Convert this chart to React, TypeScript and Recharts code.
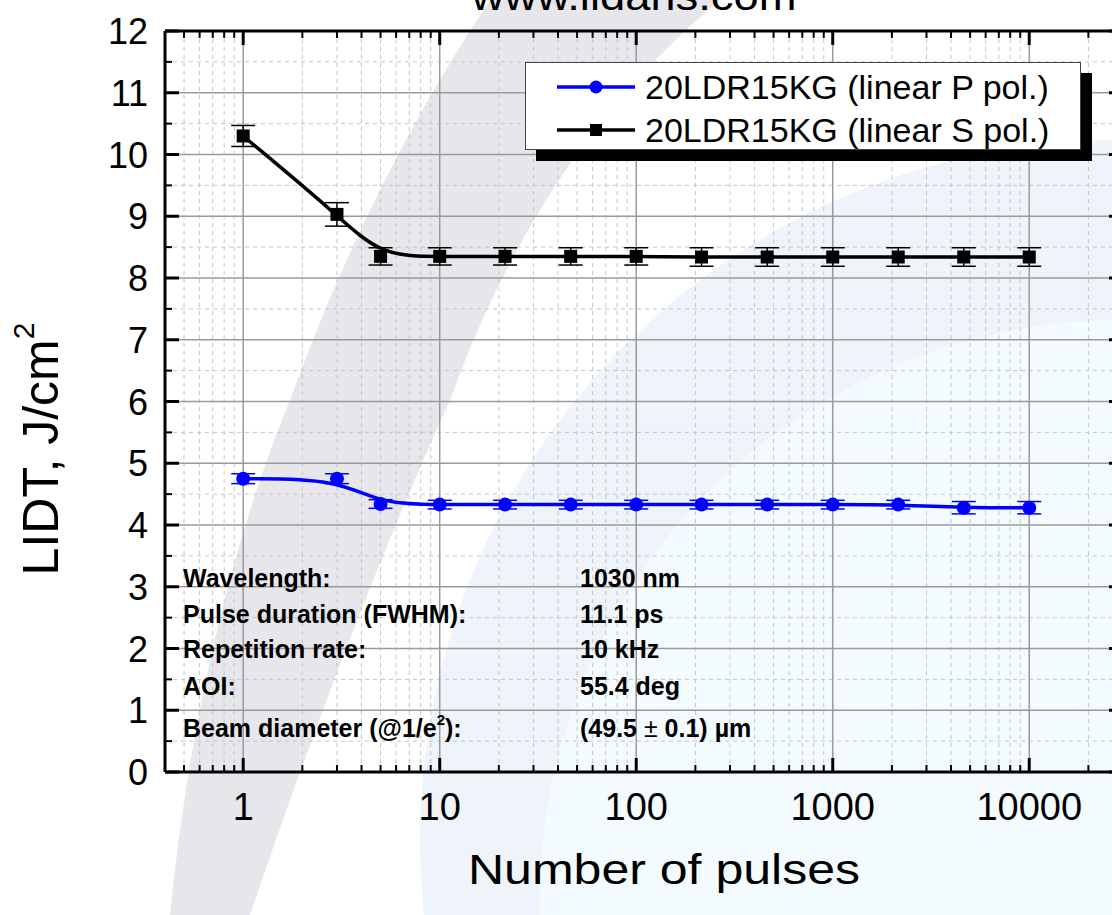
import React from "react";
import {
  CartesianGrid,
  ComposedChart,
  Customized,
  ErrorBar,
  Legend,
  Line,
  XAxis,
  YAxis,
} from "recharts";

const FONT = '"Liberation Sans", Arial, Helvetica, sans-serif';

// measured points (number of pulses, LIDT J/cm2 and its error)
const PULSES = [1, 3, 5, 10, 21.5, 46.4, 100, 215, 464, 1000, 2154, 4642, 10000];
const P_POL = [4.75, 4.75, 4.34, 4.33, 4.33, 4.33, 4.33, 4.33, 4.33, 4.33, 4.33, 4.28, 4.28];
const P_ERR = [0.08, 0.08, 0.07, 0.07, 0.07, 0.07, 0.07, 0.07, 0.07, 0.07, 0.07, 0.1, 0.1];
const S_POL = [10.3, 9.03, 8.35, 8.35, 8.35, 8.35, 8.35, 8.34, 8.34, 8.34, 8.34, 8.34, 8.34];
const S_ERR = [0.17, 0.19, 0.14, 0.14, 0.14, 0.14, 0.14, 0.15, 0.15, 0.15, 0.15, 0.15, 0.15];

const SERIES_NAMES = ["20LDR15KG (linear P pol.)", "20LDR15KG (linear S pol.)"];

const X_MAJOR = [1, 10, 100, 1000, 10000];
const X_MINOR = [
  0.5, 0.6, 0.7, 0.8, 0.9,
  2, 3, 4, 5, 6, 7, 8, 9,
  20, 30, 40, 50, 60, 70, 80, 90,
  200, 300, 400, 500, 600, 700, 800, 900,
  2000, 3000, 4000, 5000, 6000, 7000, 8000, 9000,
  20000,
];
const Y_MAJOR = [0, 1, 2, 3, 4, 5, 6, 7, 8, 9, 10, 11, 12];
const Y_MINOR = [0.5, 1.5, 2.5, 3.5, 4.5, 5.5, 6.5, 7.5, 8.5, 9.5, 10.5, 11.5];

const INFO_LABELS = ["Wavelength:", "Pulse duration (FWHM):", "Repetition rate:", "AOI:"];
const INFO_VALUES = ["1030 nm", "11.1 ps", "10 kHz", "55.4 deg"];
const INFO_BASELINES = [587, 623, 658, 695, 737];

const data = PULSES.map((n, i) => ({
  n,
  p: P_POL[i],
  pErr: P_ERR[i],
  s: S_POL[i],
  sErr: S_ERR[i],
}));

const xTicks = [...X_MAJOR, ...X_MINOR].sort((a, b) => a - b);
const yTicks = [...Y_MAJOR, ...Y_MINOR].sort((a, b) => a - b);

const isMajorX = (v: number) => X_MAJOR.includes(v);
const isMajorY = (v: number) => Y_MAJOR.includes(v);

function BottomTick(props: any) {
  const { x, y, payload } = props;
  const major = isMajorX(payload.value);
  return (
    <g>
      <line x1={x} x2={x} y1={y} y2={y - (major ? 14 : 7)} stroke="#000" strokeWidth={major ? 3 : 2} />
      {major && (
        <text x={x} y={y + 48} textAnchor="middle" fontSize={38} fontFamily={FONT} fill="#000">
          {payload.value}
        </text>
      )}
    </g>
  );
}

function TopTick(props: any) {
  const { x, y, payload } = props;
  const major = isMajorX(payload.value);
  return <line x1={x} x2={x} y1={y} y2={y + (major ? 14 : 7)} stroke="#000" strokeWidth={major ? 3 : 2} />;
}

function LeftTick(props: any) {
  const { x, y, payload } = props;
  const major = isMajorY(payload.value);
  return (
    <g>
      <line x1={x} x2={x + (major ? 14 : 7)} y1={y} y2={y} stroke="#000" strokeWidth={major ? 3 : 2} />
      {major && (
        <text x={x - 17} y={y + 13} textAnchor="end" fontSize={36} fontFamily={FONT} fill="#000">
          {payload.value}
        </text>
      )}
    </g>
  );
}

function RightTick(props: any) {
  const { x, y, payload } = props;
  const major = isMajorY(payload.value);
  return <line x1={x - (major ? 14 : 7)} x2={x} y1={y} y2={y} stroke="#000" strokeWidth={major ? 3 : 2} />;
}

function SquareDot(props: any) {
  const { cx, cy } = props;
  if (cx == null || cy == null) return null;
  return <rect x={cx - 6.5} y={cy - 6.5} width={13} height={13} fill="#000" />;
}

function CircleDot(props: any) {
  const { cx, cy } = props;
  if (cx == null || cy == null) return null;
  return <circle cx={cx} cy={cy} r={7} fill="#0000ff" />;
}

function LegendBox() {
  const rows = [
    { name: SERIES_NAMES[0], color: "#0000ff", y: 25, marker: "circle" },
    { name: SERIES_NAMES[1], color: "#000000", y: 68, marker: "square" },
  ];
  return (
    <div
      style={{
        width: 556,
        height: 88,
        background: "#fff",
        border: "1.5px solid #444",
        boxSizing: "border-box",
        boxShadow: "11px 11px 0 #000",
      }}
    >
      <svg width={556} height={88} style={{ display: "block", marginTop: -1.5, marginLeft: -1.5 }}>
        {rows.map((r) => (
          <g key={r.name}>
            <line x1={32} x2={110} y1={r.y} y2={r.y} stroke={r.color} strokeWidth={3.5} />
            {r.marker === "circle" ? (
              <circle cx={71} cy={r.y} r={6.5} fill={r.color} />
            ) : (
              <rect x={65} y={r.y - 6} width={12} height={12} fill={r.color} />
            )}
            <text x={120} y={r.y + 12} fontSize={34} fontFamily={FONT} fill="#000">
              {r.name}
            </text>
          </g>
        ))}
      </svg>
    </div>
  );
}

function Annotations() {
  const bold = { fontSize: 25, fontFamily: FONT, fontWeight: 700, fill: "#000" } as const;
  return (
    <g>
      <text x={634} y={10} textAnchor="middle" fontSize={40} fontFamily={FONT} fill="#000" textLength={325} lengthAdjust="spacingAndGlyphs">
        www.lidaris.com
      </text>
      {INFO_LABELS.map((t, i) => (
        <text key={t} x={183} y={INFO_BASELINES[i]} {...bold}>
          {t}
        </text>
      ))}
      <text x={183} y={INFO_BASELINES[4]} {...bold}>
        Beam diameter (@1/e
        <tspan dy={-12} fontSize={15}>2</tspan>
        <tspan dy={12}>):</tspan>
      </text>
      {INFO_VALUES.map((t, i) => (
        <text key={t} x={580} y={INFO_BASELINES[i]} {...bold}>
          {t}
        </text>
      ))}
      <text x={580} y={INFO_BASELINES[4]} {...bold}>
        (49.5 <tspan fontWeight={400}>±</tspan> 0.1) µm
      </text>
      <text
        x={0}
        y={0}
        transform="translate(58, 449) rotate(-90)"
        textAnchor="middle"
        fontSize={50}
        fontFamily={FONT}
        fill="#000"
      >
        LIDT, J/cm
        <tspan dy={-24} fontSize={30}>2</tspan>
      </text>
      <text x={664} y={884} textAnchor="middle" fontSize={42} fontFamily={FONT} fill="#000" textLength={392} lengthAdjust="spacingAndGlyphs">
        Number of pulses
      </text>
    </g>
  );
}

// faint logo behind the plot
function Watermark() {
  return (
    <svg width={1112} height={915} style={{ position: "absolute", left: 0, top: 0 }}>
      <circle cx={1120} cy={840} r={700} fill="#eef4fa" />
      <circle cx={1120} cy={900} r={580} fill="#f4fbfe" />
      <path
        d="M 490 0 L 720 0 Q 540 150 450 400 Q 350 620 250 915 L 170 915 Q 200 620 290 400 Q 370 180 490 0 Z"
        fill="#e7e7eb"
      />
    </svg>
  );
}

export default function App() {
  return (
    <div
      style={{
        position: "fixed",
        left: 0,
        top: 0,
        width: 1112,
        height: 915,
        overflow: "hidden",
        background: "#fff",
        fontFamily: FONT,
      }}
    >
      <Watermark />
      <div style={{ position: "absolute", left: 0, top: 0 }}>
        <ComposedChart width={1140} height={915} data={data} margin={{ top: 30, right: 16, bottom: 142, left: 164 }}>
          <CartesianGrid
            horizontal={false}
            verticalValues={X_MINOR}
            stroke="#c4c4c4"
            strokeDasharray="4 4"
            strokeWidth={1}
          />
          <CartesianGrid vertical={false} horizontalValues={Y_MINOR} stroke="#c4c4c4" strokeDasharray="4 4" strokeWidth={1} />
          <CartesianGrid
            verticalValues={[1, 10, 100, 1000, 10000]}
            horizontalValues={[1, 2, 3, 4, 5, 6, 7, 8, 9, 10, 11]}
            stroke="#9a9a9a"
            strokeWidth={1.5}
          />
          <XAxis
            dataKey="n"
            type="number"
            scale="log"
            domain={[0.4, 30000]}
            allowDataOverflow
            ticks={xTicks}
            interval={0}
            tick={BottomTick}
            tickLine={false}
            tickSize={0}
            tickMargin={0}
            height={1}
            axisLine={{ stroke: "#000", strokeWidth: 3 }}
          />
          <XAxis
            xAxisId="top"
            orientation="top"
            dataKey="n"
            type="number"
            scale="log"
            domain={[0.4, 30000]}
            allowDataOverflow
            ticks={xTicks}
            interval={0}
            tick={TopTick}
            tickLine={false}
            tickSize={0}
            tickMargin={0}
            height={1}
            axisLine={{ stroke: "#000", strokeWidth: 3 }}
          />
          <YAxis
            type="number"
            domain={[0, 12]}
            allowDataOverflow
            ticks={yTicks}
            interval={0}
            tick={LeftTick}
            tickLine={false}
            tickSize={0}
            tickMargin={0}
            width={1}
            axisLine={{ stroke: "#000", strokeWidth: 3 }}
          />
          <YAxis
            yAxisId="right"
            orientation="right"
            type="number"
            domain={[0, 12]}
            allowDataOverflow
            ticks={yTicks}
            interval={0}
            tick={RightTick}
            tickLine={false}
            tickSize={0}
            tickMargin={0}
            width={1}
            axisLine={{ stroke: "#000", strokeWidth: 3 }}
          />
          <Line
            dataKey="s"
            name={SERIES_NAMES[1]}
            type="basis"
            stroke="#000"
            strokeWidth={3.5}
            dot={SquareDot}
            activeDot={false}
            isAnimationActive={false}
          >
            <ErrorBar dataKey="sErr" direction="y" width={12} stroke="#000" strokeWidth={1.5} isAnimationActive={false} />
          </Line>
          <Line
            dataKey="p"
            name={SERIES_NAMES[0]}
            type="basis"
            stroke="#0000ff"
            strokeWidth={3.5}
            dot={CircleDot}
            activeDot={false}
            isAnimationActive={false}
          >
            <ErrorBar dataKey="pErr" direction="y" width={12} stroke="#0000ff" strokeWidth={1.5} isAnimationActive={false} />
          </Line>
          <Legend
            layout="vertical"
            align="center"
            verticalAlign="middle"
            content={LegendBox}
            wrapperStyle={{ position: "absolute", left: 525, top: 62, width: 556, height: 88 }}
          />
          <Customized component={Annotations} />
        </ComposedChart>
      </div>
    </div>
  );
}
